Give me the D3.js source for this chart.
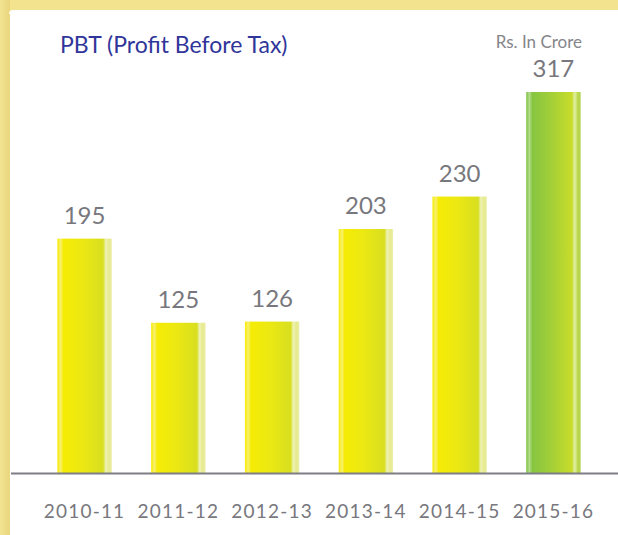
<!DOCTYPE html>
<meta charset="utf-8">
<style>
body { margin: 0; overflow: hidden; background: #fff; }
svg { display: block; }
text { font-family: Lato, sans-serif; }
.lbl { fill: #77777d; }
</style>
<svg width="618" height="535"></svg>
<script src="https://cdnjs.cloudflare.com/ajax/libs/d3/7.8.5/d3.min.js"></script>
<script>

var years = ["2010-11", "2011-12", "2012-13", "2013-14", "2014-15", "2015-16"];
var pbt = [195, 125, 126, 203, 230, 317];

var svg = d3.select("svg"),
    width = +svg.attr("width"),
    height = +svg.attr("height");

var baseY = 473;

var x = d3.scaleBand().domain(years).range([18, 620]).paddingInner(0.42).paddingOuter(0.42);
var y = d3.scaleLinear().domain([0, 317]).range([baseY, 92]);

var defs = svg.append("defs");

function grad(id, stops) {
  var g = defs.append("linearGradient").attr("id", id)
      .attr("x1", "0%").attr("x2", "100%").attr("y1", "0%").attr("y2", "0%");
  stops.forEach(function(s) {
    g.append("stop").attr("offset", s[0]).attr("stop-color", s[1]);
  });
}

grad("yel", [[0, "#f6ec00"], [0.06, "#f8f070"], [0.11, "#f5ec05"], [0.45, "#ece812"],
             [0.84, "#d8df20"], [0.89, "#eef2b4"], [0.95, "#e6ea8c"], [1, "#eceea8"]]);
grad("grn", [[0, "#7cc242"], [0.06, "#b4dc8c"], [0.11, "#86c541"], [0.45, "#a2cf38"],
             [0.84, "#c8dc2a"], [0.89, "#e2eea4"], [0.95, "#bcd84c"], [1, "#b0d24a"]]);

var frame = defs.append("linearGradient").attr("id", "frameL")
    .attr("x1", "0%").attr("x2", "100%");
frame.append("stop").attr("offset", 0).attr("stop-color", "#f3e492");
frame.append("stop").attr("offset", 1).attr("stop-color", "#e9d67e");

// yellow frame: top band and left band only
svg.append("rect").attr("x", 0).attr("y", 0).attr("width", width).attr("height", 14).attr("fill", "#f3e38e");
svg.append("rect").attr("x", 0).attr("y", 0).attr("width", 10).attr("height", height)
    .attr("fill", "url(#frameL)");
svg.append("path")
    .attr("d", "M9,14 Q9,10 13,10 H" + width + " V14 Z")
    .attr("fill", "#fff");

svg.append("text")
    .attr("x", 60).attr("y", 53)
    .attr("font-size", 23)
    .attr("fill", "#30359a")
    .text("PBT (Profit Before Tax)");

svg.append("text")
    .attr("x", 582).attr("y", 48)
    .attr("text-anchor", "end")
    .attr("font-size", 17)
    .attr("fill", "#85858a")
    .text("Rs. In Crore");

svg.selectAll(".bar")
  .data(pbt)
  .enter().append("rect")
    .attr("class", "bar")
    .attr("x", function(d, i) { return x(years[i]); })
    .attr("width", x.bandwidth())
    .attr("y", function(d) { return y(d); })
    .attr("height", function(d) { return baseY - y(d); })
    .attr("fill", function(d, i) { return i === years.length - 1 ? "url(#grn)" : "url(#yel)"; });

svg.selectAll(".val")
  .data(pbt)
  .enter().append("text")
    .attr("class", "lbl")
    .attr("x", function(d, i) { return x(years[i]) + x.bandwidth() / 2; })
    .attr("y", function(d) { return y(d) - 15; })
    .attr("text-anchor", "middle")
    .attr("font-size", 24)
    .text(function(d) { return d; });

svg.append("line")
    .attr("x1", 11).attr("x2", width)
    .attr("y1", baseY + 0.5).attr("y2", baseY + 0.5)
    .attr("stroke", "#7e7e86").attr("stroke-width", 2);

svg.selectAll(".yr")
  .data(years)
  .enter().append("text")
    .attr("class", "lbl")
    .attr("x", function(d) { return x(d) + x.bandwidth() / 2; })
    .attr("y", 518)
    .attr("text-anchor", "middle")
    .attr("font-size", 19)
    .attr("letter-spacing", 1.2)
    .text(function(d) { return d; });

</script>
